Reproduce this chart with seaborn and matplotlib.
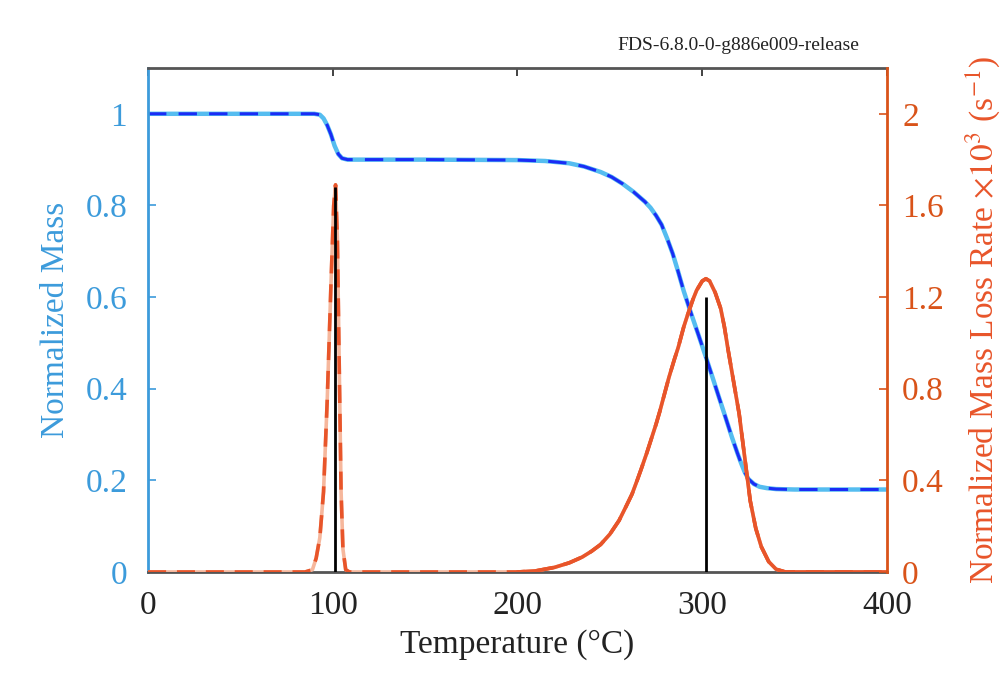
import numpy as np
import matplotlib
matplotlib.use("Agg")
import matplotlib.pyplot as plt
import seaborn as sns

# values
mass_T = [0, 60, 90, 93, 95, 97, 99, 101, 103, 105, 108, 150, 200, 215, 228, 236,
          245, 251, 257, 263, 269, 272, 275, 278, 281, 284, 287, 290, 294, 298, 302,
          305, 309, 312, 316, 319, 321, 323, 325, 328, 331, 335, 340, 350, 400]
mass = [1.0, 1.0, 1.0, 0.998, 0.99, 0.975, 0.955, 0.93, 0.912, 0.903, 0.9, 0.9, 0.899,
        0.897, 0.892, 0.885, 0.873, 0.862, 0.847, 0.829, 0.808, 0.795, 0.778, 0.758,
        0.728, 0.695, 0.655, 0.613, 0.564, 0.517, 0.469, 0.432, 0.382, 0.345, 0.295,
        0.26, 0.238, 0.218, 0.203, 0.192, 0.186, 0.183, 0.181, 0.18, 0.18]

rate_T = [0, 85, 89, 91, 93, 95, 97, 99, 100.5, 101.5, 102.5, 103.5, 104.5, 105.5, 107,
          109, 200, 210, 220, 228, 235, 240, 245, 250, 255, 259, 262, 265, 267, 270,
          272, 275, 277, 280, 282, 285, 287, 290, 292, 295, 297, 300, 302, 304, 307,
          310, 312, 314, 317, 320, 323, 326, 329, 332, 336, 340, 345, 400]
rate = [0, 0, 0.01, 0.06, 0.15, 0.35, 0.75, 1.25, 1.6, 1.69, 1.45, 0.9, 0.35, 0.1, 0.01,
        0, 0, 0.005, 0.02, 0.04, 0.065, 0.09, 0.12, 0.165, 0.225, 0.29, 0.34, 0.405,
        0.45, 0.52, 0.57, 0.645, 0.7, 0.79, 0.85, 0.93, 0.98, 1.07, 1.12, 1.19, 1.23,
        1.27, 1.28, 1.27, 1.22, 1.15, 1.07, 0.97, 0.83, 0.69, 0.5, 0.31, 0.19, 0.11,
        0.045, 0.012, 0, 0]

stem_T = [101, 302]
stem_rate = [1.68, 1.2]

x_ticks = [0, 100, 200, 300, 400]
mass_ticks = [0, 0.2, 0.4, 0.6, 0.8, 1]
rate_ticks = [0, 0.4, 0.8, 1.2, 1.6, 2]

sns.set_style("white")
plt.rcParams['font.family'] = ['Liberation Serif', 'DejaVu Serif']
plt.rcParams['mathtext.fontset'] = 'stix'

c_left = '#3c9bdb'
c_light = '#55bdf0'
c_blue = '#1a2cf5'
c_orange = '#e8552a'
c_peach = '#f6b79c'
c_right = '#d95319'
c_frame = '#555555'

fig = plt.figure(figsize=(10.03, 6.86), dpi=100)
ax = fig.add_axes([0.1476, 0.1662, 0.7367, 0.7347])
ax2 = ax.twinx()

# mass: experiment (solid light blue) and model (dashed blue)
sns.lineplot(x=mass_T, y=mass, ax=ax, color=c_light, linewidth=3.2)
sns.lineplot(x=mass_T, y=mass, ax=ax, color=c_blue, linewidth=2.2,
             linestyle=(0, (6, 4)))

# mass loss rate
rT = np.array(rate_T)
rV = np.array(rate)
sns.lineplot(x=rT, y=rV, ax=ax2, color=c_peach, linewidth=2.6)
sns.lineplot(x=rT, y=rV, ax=ax2, color=c_orange, linewidth=2.6,
             linestyle=(0, (5, 3)))
sel = rT >= 200
sns.lineplot(x=rT[sel], y=rV[sel], ax=ax2, color=c_orange, linewidth=2.6)
ax2.vlines(stem_T, 0, stem_rate, color='black', linewidth=2, zorder=5)

ax.set_xlim(0, 400)
ax.set_ylim(0, 1.1)
ax2.set_ylim(0, 2.2)
ax.set_xticks(x_ticks)
ax.set_xticklabels([str(t) for t in x_ticks])
ax.set_yticks(mass_ticks)
ax.set_yticklabels(['0', '0.2', '0.4', '0.6', '0.8', '1'])
ax2.set_yticks(rate_ticks)
ax2.set_yticklabels(['0', '0.4', '0.8', '1.2', '1.6', '2'])

ax.tick_params(axis='x', direction='in', top=True, length=6, width=1.2,
               labelsize=24, colors='#222222', pad=13)
ax.tick_params(axis='y', direction='in', length=6, width=1.2, labelsize=24,
               colors=c_left, pad=15)
ax2.tick_params(axis='y', direction='in', length=6, width=1.2, labelsize=24,
                colors=c_right, pad=11)

for s in ['top', 'bottom']:
    ax.spines[s].set_color(c_frame)
    ax.spines[s].set_linewidth(2)
    ax2.spines[s].set_visible(False)
ax.spines['left'].set_color(c_left)
ax.spines['left'].set_linewidth(2)
ax.spines['right'].set_visible(False)
ax2.spines['left'].set_visible(False)
ax2.spines['right'].set_color(c_right)
ax2.spines['right'].set_linewidth(2)

ax.set_xlabel('Temperature (°C)', fontsize=24, color='#222222', labelpad=6)
ax.set_ylabel('Normalized Mass', fontsize=24, color=c_left, labelpad=10)
ax2.set_ylabel(r'Normalized Mass Loss Rate $\times 10^3$ (s$^{-1}$)', fontsize=24,
               color=c_orange, labelpad=14)

fig.text(0.857, 0.934, 'FDS-6.8.0-0-g886e009-release', ha='right', va='center',
         fontsize=14, color='#222222')

fig.savefig('out.png', dpi=100)
